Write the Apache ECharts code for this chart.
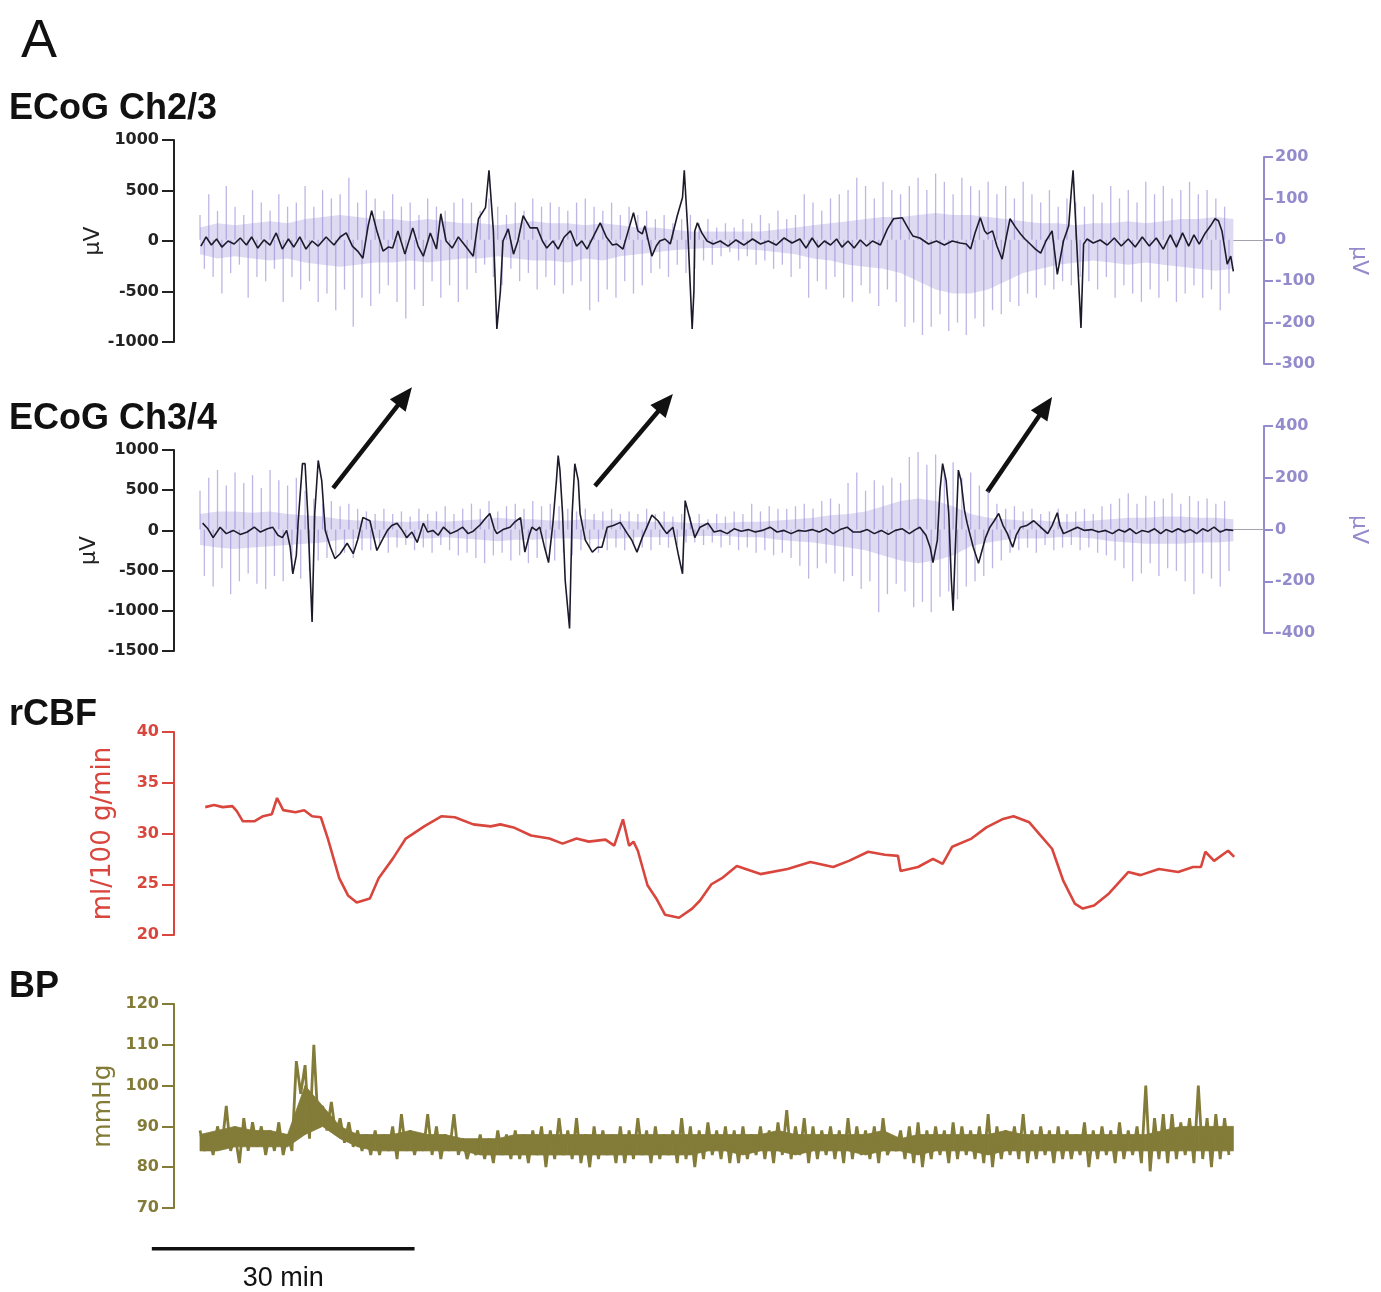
<!DOCTYPE html>
<html>
<head>
<meta charset="utf-8">
<title>ECoG, rCBF and BP recordings</title>
<script src="https://cdn.jsdelivr.net/npm/echarts@6/dist/echarts.min.js"></script>
<style>
  html, body { margin: 0; padding: 0; background: #ffffff; }
  #main { width: 1381px; height: 1292px; }
</style>
</head>
<body>
<div id="main"></div>
<script>
// ---- Time base (minutes) ----
const TIME_MAX = 121.5;

// ---- ECoG Ch2/3: slow (DC) trace, [minute, µV] on the left axis ----
const ch23Slow = [
  [0.1,-50],[0.7,40],[1.3,-40],[1.9,20],[2.5,-60],[3.2,0],[3.9,-30],[4.6,30],[5.3,-40],[5.9,40],
  [6.6,-70],[7.3,10],[8.0,-40],[8.7,80],[9.4,-80],[10.1,20],[10.7,-60],[11.4,40],[12.1,-80],[12.8,0],
  [13.5,-50],[14.4,40],[15.3,-40],[16.0,40],[16.7,80],[17.4,-50],[18.0,-100],[18.6,-170],[19.2,150],[19.6,300],
  [20.2,100],[20.9,-100],[21.5,-60],[22.0,-70],[22.6,100],[23.4,-130],[24.3,130],[24.9,-50],[25.5,-150],[26.3,80],
  [27.0,-80],[27.5,270],[28.1,0],[28.8,-70],[29.5,40],[30.4,-60],[31.2,-150],[31.8,220],[32.6,330],[33.0,700],
  [33.5,100],[33.9,-870],[34.3,-500],[34.6,0],[35.2,120],[35.8,-130],[36.3,0],[36.9,250],[37.7,130],[38.5,130],
  [39.1,0],[39.6,-70],[40.3,0],[40.9,-80],[41.6,40],[42.3,100],[43.0,-50],[43.6,0],[44.2,-80],[44.9,40],
  [45.7,180],[46.4,40],[47.1,-40],[47.6,-30],[48.3,-80],[48.9,100],[49.5,280],[50.0,100],[50.5,70],[50.8,150],
  [51.6,-150],[52.1,-50],[52.5,0],[53.1,20],[53.7,-30],[54.5,250],[55.1,430],[55.3,700],[55.7,100],[56.2,-870],
  [56.4,-500],[56.5,100],[56.8,180],[57.3,80],[57.9,0],[58.6,-30],[59.4,0],[60.3,-50],[61.2,10],[62.1,-40],
  [63.1,20],[64.0,-30],[64.9,0],[65.8,-40],[66.7,30],[67.6,-20],[68.5,20],[69.2,-70],[69.9,30],[70.6,-60],
  [71.3,0],[72.0,-40],[72.7,20],[73.3,-60],[74.0,0],[74.7,-70],[75.4,10],[76.1,-50],[76.8,0],[77.7,-40],
  [78.5,120],[79.2,220],[80.2,230],[80.9,120],[81.4,50],[82.2,30],[83.2,-30],[84.1,0],[85.0,-40],[85.9,0],
  [86.8,-20],[87.5,-30],[88.0,-80],[88.5,80],[89.1,230],[89.6,100],[89.9,70],[90.5,100],[91.0,-50],[91.6,-180],
  [92.1,50],[92.5,220],[93.1,140],[93.7,70],[94.2,20],[94.8,-30],[95.4,-80],[96.0,-120],[96.6,0],[97.3,100],
  [97.9,-330],[98.6,0],[99.2,150],[99.5,500],[99.7,700],[100.1,0],[100.6,-860],[100.9,-30],[101.3,20],[102.0,-20],
  [102.8,10],[103.6,-40],[104.4,30],[105.2,-50],[106.0,20],[106.8,-60],[107.6,40],[108.4,-50],[109.2,30],[110.0,-80],
  [110.8,60],[111.5,-60],[112.2,80],[112.9,-50],[113.5,60],[114.1,-30],[114.8,80],[115.4,150],[115.9,220],[116.3,200],
  [116.7,100],[117.3,-230],[117.7,-150],[118.0,-300]
];

// ---- ECoG Ch2/3: fast activity, per-minute upper / lower excursion (µV, right axis) ----
const ch23FastHigh = [
  60,110,70,130,80,60,120,90,70,110,80,
  90,130,80,120,100,110,150,90,120,
  100,70,110,80,90,60,100,80,70,90,100,
  90,70,100,80,60,90,70,100,80,90,
  80,70,90,100,80,70,90,60,80,
  60,70,50,60,40,50,60,40,50,
  30,40,30,50,40,60,40,70,50,60,110,
  90,70,100,110,120,150,130,100,140,120,110,
  130,150,120,160,140,110,150,130,120,140,110,130,100,140,110,90,120,80,100,90,
  80,110,90,130,100,120,90,140,110,130,100,120,140,110,120,100,80
];
const ch23FastLow = [
  -70,-90,-130,-80,-60,-140,-90,-100,-70,-150,-90,
  -120,-100,-150,-130,-170,-120,-210,-140,-160,
  -130,-110,-150,-190,-120,-160,-100,-140,-110,-150,-120,
  -80,-60,-90,-110,-70,-100,-80,-120,-90,-110,
  -130,-110,-100,-170,-150,-120,-140,-100,-130,
  -110,-80,-70,-90,-60,-80,-70,-50,-60,
  -40,-30,-50,-40,-60,-50,-70,-60,-90,-70,-140,
  -100,-120,-90,-140,-150,-110,-130,-160,-120,-150,-210,
  -200,-230,-210,-180,-220,-200,-230,-190,-210,-170,-180,-150,-160,-130,-140,-110,-120,-100,-110,-90,
  -100,-120,-90,-140,-110,-130,-150,-120,-140,-100,-150,-130,-110,-140,-120,-170,-130
];
// dense core of the fast activity, every 2 min
const ch23CoreHigh = [
  30,40,35,40,45,40,
  50,55,60,55,50,50,45,50,45,40,
  40,35,40,45,40,40,35,40,35,
  30,30,25,20,20,20,20,20,25,30,
  35,40,45,50,55,55,
  60,65,60,60,55,50,45,40,40,35,
  40,40,45,40,45,50,50,55,50
];
const ch23CoreLow = [
  -35,-45,-40,-45,-50,-45,
  -55,-60,-65,-60,-55,-55,-50,-55,-50,-45,
  -45,-40,-45,-50,-50,-55,-45,-50,-40,
  -35,-30,-25,-22,-20,-20,-22,-25,-30,-35,
  -45,-50,-60,-65,-70,-80,
  -100,-120,-130,-130,-120,-100,-80,-70,-60,-55,
  -50,-55,-60,-55,-60,-65,-70,-75,-70
];

// ---- ECoG Ch3/4: slow (DC) trace ----
const ch34Slow = [
  [0.3,90],[0.9,20],[1.5,-90],[2.3,40],[3.0,-40],[3.8,0],[4.6,-50],[5.4,-20],[6.2,40],[6.9,-20],
  [7.7,20],[8.3,40],[8.9,-60],[9.4,-90],[9.9,0],[10.3,-210],[10.6,-540],[11.0,-310],[11.2,90],[11.7,830],
  [12.0,830],[12.3,210],[12.8,-1140],[13.1,210],[13.5,870],[13.9,620],[14.3,0],[14.9,-210],[15.4,-350],[16.0,-290],
  [16.8,-160],[17.5,-290],[18.0,-120],[18.6,160],[19.4,120],[20.2,-250],[20.8,-120],[21.4,0],[21.9,60],[22.5,90],
  [23.1,0],[23.6,-90],[24.2,-20],[24.8,-150],[25.5,90],[26.0,-20],[26.6,0],[27.2,-60],[27.8,40],[28.6,-40],
  [29.4,0],[30.0,40],[30.6,-40],[31.2,-10],[32.0,70],[32.6,150],[33.1,210],[33.6,20],[33.9,-40],[34.6,10],
  [35.4,40],[36.0,110],[36.6,160],[37.1,-270],[37.6,-60],[37.9,40],[38.4,0],[38.8,40],[39.3,-190],[39.8,-400],
  [40.3,90],[40.7,620],[40.9,930],[41.1,750],[41.4,210],[41.7,-620],[42.2,-1220],[42.5,210],[42.8,830],[43.2,620],
  [43.4,210],[44.0,-120],[44.8,-270],[45.4,-210],[45.9,-210],[46.5,40],[47.2,60],[48.0,100],[48.8,-40],[49.3,-120],
  [49.9,-270],[50.5,-90],[51.1,60],[51.6,190],[52.3,120],[52.9,20],[53.3,-40],[54.0,40],[54.6,-290],[55.1,-540],
  [55.4,370],[56.0,120],[56.5,-90],[57.1,40],[58.0,90],[58.7,-20],[59.4,0],[60.2,-40],[61.0,20],[61.8,-10],
  [62.6,10],[63.4,-20],[64.2,0],[65.1,40],[65.9,-20],[66.7,0],[67.5,-40],[68.3,0],[69.1,-10],[69.9,10],
  [70.7,-20],[71.5,20],[72.3,-40],[73.1,10],[73.9,40],[74.6,-20],[75.4,-20],[76.2,10],[77.0,-40],[77.8,0],
  [78.6,-50],[79.4,0],[80.2,20],[81.0,-40],[81.7,10],[82.2,40],[82.9,-60],[83.4,-220],[83.7,-400],[84.2,-120],
  [84.5,500],[84.8,830],[85.2,620],[85.5,210],[85.8,-620],[86.0,-1000],[86.2,-370],[86.6,750],[86.9,620],[87.3,250],
  [87.6,90],[88.3,-210],[88.9,-410],[89.3,-250],[89.7,-90],[90.2,40],[90.7,120],[91.2,210],[91.7,60],[92.2,-40],
  [92.8,-210],[93.2,-60],[93.7,40],[94.4,60],[95.2,120],[96.0,40],[96.8,-40],[97.3,60],[97.9,220],[98.2,60],
  [98.6,-40],[99.4,0],[100.2,40],[101.0,0],[101.8,10],[102.6,-20],[103.4,0],[104.2,-40],[104.9,10],[105.6,-20],
  [106.2,20],[106.9,-40],[107.6,0],[108.3,-20],[109.0,20],[109.7,-40],[110.3,10],[111.0,-20],[111.7,20],[112.4,-20],
  [113.1,10],[113.8,-40],[114.5,20],[115.1,-10],[115.8,40],[116.5,-20],[117.2,10],[118.0,0]
];

// ---- ECoG Ch3/4: fast activity, per-minute upper / lower excursion (µV, right axis) ----
const ch34FastHigh = [
  150,200,230,170,220,180,210,160,230,190,170,200,
  150,120,100,110,90,100,80,
  70,60,80,60,70,50,80,60,70,90,60,80,
  100,80,110,70,90,100,80,110,90,100,
  90,80,70,80,60,70,80,60,70,60,80,60,70,50,60,
  50,60,40,60,50,70,60,100,70,90,80,
  80,90,100,80,110,120,100,180,220,150,190,170,200,180,
  280,300,250,290,230,260,200,220,170,150,
  100,80,90,70,80,60,70,80,60,70,80,60,90,100,
  120,140,100,130,110,120,140,100,130,110,120,100,110
];
const ch34FastLow = [
  -180,-220,-150,-250,-200,-170,-210,-230,-180,-200,-160,-190,
  -160,-120,-110,-100,-90,-110,-80,
  -80,-60,-90,-70,-60,-80,-70,-90,-60,-80,-100,-90,
  -110,-130,-100,-90,-120,-100,-130,-110,-90,-120,
  -90,-100,-80,-70,-90,-80,-70,-80,-60,-70,-80,-60,-70,-60,-50,
  -50,-60,-50,-70,-60,-80,-70,-90,-80,-100,-90,
  -110,-140,-190,-150,-130,-170,-200,-180,-230,-200,-320,-250,-210,-240,
  -300,-280,-320,-260,-240,-270,-220,-200,-180,-150,
  -120,-90,-80,-70,-90,-60,-80,-70,-60,-80,-70,-90,-100,-120,
  -150,-200,-170,-130,-180,-150,-160,-200,-250,-170,-190,-220,-160
];
const ch34CoreHigh = [
  60,70,70,65,70,60,
  55,50,40,35,35,30,30,35,30,35,
  40,45,40,40,35,35,40,35,35,
  30,30,30,25,25,25,30,30,35,40,
  45,55,60,70,90,110,
  120,110,90,60,45,40,35,35,30,30,
  35,40,45,45,50,50,45,45,40
];
const ch34CoreLow = [
  -60,-70,-75,-70,-65,-60,
  -55,-50,-40,-35,-35,-30,-35,-35,-30,-35,
  -40,-45,-40,-40,-35,-35,-40,-35,-35,
  -30,-30,-30,-25,-25,-25,-30,-30,-40,-45,
  -50,-60,-70,-80,-100,-120,
  -130,-120,-100,-65,-50,-40,-35,-35,-30,-30,
  -35,-45,-50,-55,-55,-55,-50,-50,-45
];

// ---- Regional cerebral blood flow, ml/100 g/min ----
const rcbf = [
  [0.6,32.6],[1.6,32.8],[2.6,32.6],[3.7,32.7],[4.2,32.2],[4.9,31.2],[6.2,31.2],[7.2,31.7],[8.2,31.9],[8.8,33.5],
  [9.5,32.3],[10.9,32.1],[11.9,32.3],[12.8,31.7],[13.8,31.6],[14.6,29.5],[15.9,25.6],[16.9,23.9],[17.9,23.2],[19.4,23.6],
  [20.4,25.6],[22.0,27.5],[23.5,29.5],[25.6,30.7],[27.6,31.7],[29.1,31.6],[31.2,30.9],[33.2,30.7],[34.3,30.9],[35.8,30.6],
  [37.8,29.8],[39.9,29.5],[41.4,29.0],[43.0,29.5],[44.4,29.2],[46.3,29.4],[47.3,28.8],[48.3,31.4],[49.0,28.8],[49.5,29.2],
  [50.0,28.3],[51.1,24.9],[52.1,23.6],[53.1,22.0],[54.7,21.7],[56.2,22.6],[57.1,23.4],[58.4,25.0],[59.6,25.6],[61.3,26.8],
  [64.0,26.0],[67.1,26.5],[69.7,27.2],[72.3,26.7],[74.1,27.3],[76.3,28.2],[78.2,27.9],[79.7,27.8],[80.0,26.3],[82.0,26.7],
  [83.7,27.5],[84.8,27.0],[85.9,28.7],[88.1,29.5],[89.8,30.6],[91.6,31.4],[92.9,31.7],[94.7,31.1],[96.0,29.8],[97.3,28.5],
  [98.6,25.3],[99.9,23.1],[100.8,22.6],[102.1,22.9],[103.8,24.1],[106.0,26.2],[107.4,25.9],[109.5,26.5],[111.7,26.2],[113.4,26.7],
  [114.3,26.7],[114.8,28.2],[115.8,27.3],[117.4,28.3],[118.1,27.7]
];

// ---- Blood pressure, per-minute upper / lower swing (mmHg) ----
const bpHigh = [
  89,88,90,95,88,92,91,90,89,91,88,
  106,105,110,95,96,92,91,89,88,
  89,88,90,93,89,88,93,90,88,93,
  87,86,88,87,89,88,
  89,88,89,90,89,92,89,92,88,90,89,88,90,89,92,89,90,88,89,92,90,89,91,89,90,
  89,90,88,90,89,91,94,90,92,90,89,90,89,92,90,89,90,92,86,89,90,91,89,90,89,91,90,89,90,93,
  90,89,90,93,89,90,89,90,89,88,91,89,90,89,91,89,90,100,92,93,93,91,92,100,92,93,92
];
const bpLow = [
  84,83,85,84,81,84,85,83,84,83,84,
  98,87,90,89,88,86,85,84,83,
  83,84,82,84,83,84,83,82,84,83,
  82,83,82,81,83,82,
  82,81,83,80,82,83,82,81,80,82,83,81,81,82,83,81,82,83,81,82,80,82,83,82,81,
  81,82,83,82,81,83,82,83,81,82,83,82,81,82,83,82,81,83,84,82,81,80,82,83,81,82,83,82,81,80,
  82,83,82,81,82,83,81,82,82,83,80,82,83,81,82,83,81,79,82,81,82,83,81,82,80,82,83
];
// solid body of the BP trace, every 2 min
const bpCoreHigh = [
  88,89,90,89,89,88,
  100,95,90,88,88,88,89,88,88,87,
  87,87,88,88,88,88,88,88,88,
  88,88,88,88,88,88,88,88,89,88,
  88,88,88,88,89,87,
  88,88,88,88,88,89,88,88,88,88,
  88,88,88,88,89,90,90,90,90
];
const bpCoreLow = [
  84,84,85,85,85,85,
  88,90,87,85,84,84,84,84,84,84,
  83,83,83,83,83,83,83,83,83,
  83,83,83,83,84,84,83,84,84,83,
  84,84,84,83,84,84,
  83,84,84,84,83,84,84,84,84,84,
  84,84,84,84,84,84,84,84,84
];

// ---- Annotation arrows between the ECoG channels: [minute, µV on Ch3/4 axis] ----
const arrowTails = [[15.2, 527], [45.1, 552], [89.9, 479]];
const arrowTips  = [[24.2, 1779], [54.0, 1697], [97.3, 1660]];

// ---- Time scale bar ----
const scaleBarStart = -5.5;     // minutes
const scaleBarLength = 30;      // minutes
const scaleBarLevel = 60;       // mmHg level on the BP axis (below the plotted range)
const scaleBarText = '30 min';

// ---- Colours ----
const INK = '#1c1b2c';
const LAVENDER = '#948bcc';
const FAST = 'rgba(146,134,212,0.6)';
const CORE = 'rgba(150,140,214,0.45)';
const RED = '#d8463d';
const OLIVE = '#837b38';

// ---- Builders ----
function zigzag(high, low) {
  const out = [];
  for (let i = 0; i < high.length; i++) {
    out.push([i, high[i]]);
    out.push([i + 0.5, low[i]]);
  }
  return out;
}
function everyTwo(values) {
  return values.map((v, i) => [i * 2, v]);
}
const plainNumber = v => String(v);

const GRID_LEFT = 200;
const GRID_WIDTH = 1064;
const grids = [
  { top: 140, height: 202 },   // Ch2/3 slow (left axis)
  { top: 157, height: 207 },   // Ch2/3 fast (right axis)
  { top: 450, height: 201 },   // Ch3/4 slow
  { top: 426, height: 207 },   // Ch3/4 fast
  { top: 732, height: 203 },   // rCBF
  { top: 1004, height: 204 }   // BP
].map(g => ({ left: GRID_LEFT, width: GRID_WIDTH, top: g.top, height: g.height, containLabel: false }));

const xAxes = grids.map((g, i) => ({
  gridIndex: i, type: 'value', min: 0, max: TIME_MAX, show: false
}));

function leftAxis(gridIndex, min, max, interval, name, color, nameSize, nameGap) {
  return {
    gridIndex, type: 'value', position: 'left', offset: 26,
    min, max, interval,
    name, nameLocation: 'middle', nameGap, nameMoveOverlap: false,
    nameTextStyle: { fontFamily: 'DejaVu Sans', fontSize: nameSize, color },
    axisLine: { show: true, onZero: false, lineStyle: { color, width: 2 } },
    axisTick: { show: true, length: 12, lineStyle: { color, width: 2 } },
    axisLabel: { margin: 15, fontFamily: 'DejaVu Sans', fontWeight: 'bold', fontSize: 16, color, formatter: plainNumber },
    splitLine: { show: false }
  };
}
function rightAxis(gridIndex, min, max, interval) {
  return {
    gridIndex, type: 'value', position: 'right', offset: 0,
    min, max, interval,
    name: 'μV', nameLocation: 'middle', nameGap: 84, nameRotate: -90,
    nameTextStyle: { fontFamily: 'DejaVu Sans', fontSize: 22, color: LAVENDER },
    axisLine: { show: true, onZero: false, lineStyle: { color: LAVENDER, width: 2 } },
    axisTick: { show: true, length: 9, lineStyle: { color: LAVENDER, width: 2 } },
    axisLabel: { margin: 11, fontFamily: 'DejaVu Sans', fontWeight: 'bold', fontSize: 16, color: LAVENDER, formatter: plainNumber },
    splitLine: { show: false }
  };
}

const yAxes = [
  leftAxis(0, -1000, 1000, 500, 'μV', '#222222', 22, 70),
  rightAxis(1, -300, 200, 100),
  leftAxis(2, -1500, 1000, 500, 'μV', '#222222', 22, 74),
  rightAxis(3, -400, 400, 200),
  leftAxis(4, 20, 40, 5, 'ml/100 g/min', RED, 26, 58),
  leftAxis(5, 70, 120, 10, 'mmHg', OLIVE, 25, 58)
];

// short zero reference from the end of the recording to the right-hand axis
function zeroTail(slow) {
  return {
    silent: true, symbol: 'none', label: { show: false },
    lineStyle: { color: '#a3a3ad', width: 1, type: 'solid' },
    data: [[{ coord: [slow[slow.length - 1][0], 0] }, { coord: [TIME_MAX, 0] }]]
  };
}
function coreSeries(axisIndex, values, slowForZero) {
  const s = {
    type: 'line', xAxisIndex: axisIndex, yAxisIndex: axisIndex,
    data: everyTwo(values), showSymbol: false, silent: true,
    lineStyle: { width: 0 }, areaStyle: { color: CORE, origin: 0 }
  };
  if (slowForZero) s.markLine = zeroTail(slowForZero);
  return s;
}
// fast activity drawn as upward spikes (upper excursion) and downward spikes (lower excursion)
function fastSeries(axisIndex, high, low) {
  const items = [];
  for (let i = 0; i < high.length; i++) {
    items.push([i, high[i]]);
    items.push([i + 0.5, low[i]]);
  }
  return {
    type: 'custom', xAxisIndex: axisIndex, yAxisIndex: axisIndex, silent: true,
    data: items,
    renderItem: function (params, api) {
      const base = api.coord([api.value(0), 0]);
      const tip = api.coord([api.value(0), api.value(1)]);
      return {
        type: 'line',
        shape: { x1: base[0], y1: base[1], x2: tip[0], y2: tip[1] },
        style: { stroke: FAST, lineWidth: 1.3 }
      };
    }
  };
}
// filled band between a lower and an upper bound sampled every 2 min
function bandSeries(axisIndex, low, high, color) {
  const items = low.map((v, i) => [i * 2, v, high[i]]);
  return {
    type: 'custom', xAxisIndex: axisIndex, yAxisIndex: axisIndex, silent: true,
    data: items,
    renderItem: function (params, api) {
      const i = params.dataIndex;
      if (i >= items.length - 1) return { type: 'group', children: [] };
      const a = items[i], b = items[i + 1];
      const pts = [
        api.coord([a[0], a[1]]), api.coord([a[0], a[2]]),
        api.coord([b[0], b[2]]), api.coord([b[0], b[1]])
      ];
      return { type: 'polygon', shape: { points: pts }, style: { fill: color, stroke: color, lineWidth: 0.8 } };
    }
  };
}
function slowSeries(axisIndex, data) {
  return {
    type: 'line', xAxisIndex: axisIndex, yAxisIndex: axisIndex,
    data, showSymbol: false, silent: true,
    lineStyle: { color: INK, width: 1.6 }
  };
}

const series = [
  coreSeries(1, ch23CoreHigh, ch23Slow),
  coreSeries(1, ch23CoreLow, null),
  fastSeries(1, ch23FastHigh, ch23FastLow),
  slowSeries(0, ch23Slow),
  coreSeries(3, ch34CoreHigh, ch34Slow),
  coreSeries(3, ch34CoreLow, null),
  fastSeries(3, ch34FastHigh, ch34FastLow),
  slowSeries(2, ch34Slow),
  {
    type: 'line', xAxisIndex: 4, yAxisIndex: 4, data: rcbf,
    showSymbol: false, silent: true, lineStyle: { color: RED, width: 2.6 }
  },
  bandSeries(5, bpCoreLow, bpCoreHigh, OLIVE),
  {
    type: 'line', xAxisIndex: 5, yAxisIndex: 5, data: zigzag(bpHigh, bpLow),
    showSymbol: false, silent: true, lineStyle: { color: OLIVE, width: 2.8 }
  }
];

const headingStyle = { fontFamily: 'Liberation Sans', fontWeight: 'bold', fontSize: 36, color: '#111111' };
const titles = [
  { text: 'A', left: 16, top: 10, textStyle: { fontFamily: 'Liberation Sans', fontWeight: 'normal', fontSize: 54, color: '#111111' } },
  { text: 'ECoG Ch2/3', left: 4, top: 86, textStyle: headingStyle },
  { text: 'ECoG Ch3/4', left: 4, top: 396, textStyle: headingStyle },
  { text: 'rCBF', left: 4, top: 692, textStyle: headingStyle },
  { text: 'BP', left: 4, top: 964, textStyle: headingStyle }
];

const chart = echarts.init(document.getElementById('main'), null, { renderer: 'canvas' });
chart.setOption({
  animation: false,
  backgroundColor: '#ffffff',
  title: titles,
  grid: grids,
  xAxis: xAxes,
  yAxis: yAxes,
  series
});

// ---- Arrows and scale bar, placed through the axes' own conversions ----
const graphics = [];
arrowTails.forEach((tail, i) => {
  const p0 = chart.convertToPixel({ xAxisIndex: 2, yAxisIndex: 2 }, tail);
  const p1 = chart.convertToPixel({ xAxisIndex: 2, yAxisIndex: 2 }, arrowTips[i]);
  const dx = p1[0] - p0[0], dy = p1[1] - p0[1];
  const len = Math.sqrt(dx * dx + dy * dy);
  const ux = dx / len, uy = dy / len;
  const headLen = 23, headHalf = 10;
  const bx = p1[0] - ux * headLen, by = p1[1] - uy * headLen;
  graphics.push({
    type: 'line', silent: true,
    shape: { x1: p0[0], y1: p0[1], x2: bx + ux * 2, y2: by + uy * 2 },
    style: { stroke: '#111111', lineWidth: 4.5 }
  });
  graphics.push({
    type: 'polygon', silent: true,
    shape: { points: [[p1[0], p1[1]], [bx - uy * headHalf, by + ux * headHalf], [bx + uy * headHalf, by - ux * headHalf]] },
    style: { fill: '#111111' }
  });
});
const sb0 = chart.convertToPixel({ xAxisIndex: 5, yAxisIndex: 5 }, [scaleBarStart, scaleBarLevel]);
const sb1 = chart.convertToPixel({ xAxisIndex: 5, yAxisIndex: 5 }, [scaleBarStart + scaleBarLength, scaleBarLevel]);
graphics.push({
  type: 'line', silent: true,
  shape: { x1: sb0[0], y1: sb0[1], x2: sb1[0], y2: sb1[1] },
  style: { stroke: '#111111', lineWidth: 3.5 }
});
graphics.push({
  type: 'text', silent: true,
  x: (sb0[0] + sb1[0]) / 2, y: sb0[1] + 16,
  style: { text: scaleBarText, fontFamily: 'Liberation Sans', fontSize: 27, fill: '#111111', align: 'center', verticalAlign: 'top' }
});
chart.setOption({ graphic: graphics });
</script>
</body>
</html>
